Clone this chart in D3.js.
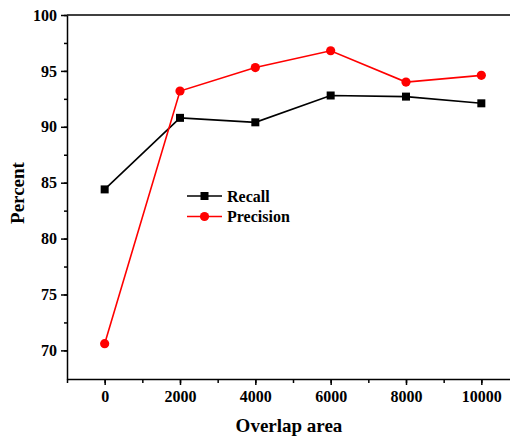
<!DOCTYPE html>
<html>
<head>
<meta charset="utf-8">
<title>Recall and Precision vs Overlap area</title>
<script src="https://cdn.jsdelivr.net/npm/d3@7"></script>
<style>
	body { margin: 0; background: #fff; }
	svg text { font-family: "Liberation Serif", "Times New Roman", serif; font-weight: bold; fill: #000; }
	.axis path, .axis line { stroke: #000; stroke-width: 1.5; }
</style>
</head>
<body>
<div id="chart"></div>
<script>
	var overlap = [0, 2000, 4000, 6000, 8000, 10000];
	var recall = [84.4, 90.8, 90.4, 92.8, 92.7, 92.1];
	var precision = [70.6, 93.2, 95.3, 96.8, 94.0, 94.6];
	var xTicks = [0, 2000, 4000, 6000, 8000, 10000];
	var yTicks = [70, 75, 80, 85, 90, 95, 100];

	var width = 510, height = 437,
		plotLeft = 67, plotTop = 15, plotRight = 519, plotBottom = 379;

	var svg = d3.select('#chart').append('svg')
		.attr('width', width)
		.attr('height', height);

	var x = d3.scaleLinear().domain([-1000, 11000]).range([plotLeft, plotRight]);
	var y = d3.scaleLinear().domain([67.44, 100]).range([plotBottom, plotTop]);

	// minor ticks first, major on top
	svg.append('g').attr('class', 'axis')
		.attr('transform', 'translate(0,' + plotBottom + ')')
		.call(d3.axisBottom(x).tickValues(d3.range(-1000, 11001, 1000)).tickSize(4).tickFormat(''))
		.select('.domain').remove();
	svg.append('g').attr('class', 'axis')
		.attr('transform', 'translate(' + plotLeft + ',0)')
		.call(d3.axisLeft(y).tickValues(d3.range(70, 100.1, 2.5)).tickSize(3).tickFormat(''))
		.select('.domain').remove();

	var xAxis = svg.append('g').attr('class', 'axis')
		.attr('transform', 'translate(0,' + plotBottom + ')')
		.call(d3.axisBottom(x).tickValues(xTicks).tickFormat(d3.format('d'))
			.tickSize(6).tickSizeOuter(0).tickPadding(6));
	xAxis.selectAll('text').style('font-size', '16px');

	var yAxis = svg.append('g').attr('class', 'axis')
		.attr('transform', 'translate(' + plotLeft + ',0)')
		.call(d3.axisLeft(y).tickValues(yTicks).tickSize(6).tickSizeOuter(0).tickPadding(4));
	yAxis.selectAll('text').style('font-size', '16px');

	// top frame line
	svg.append('line')
		.attr('x1', plotLeft).attr('x2', plotRight)
		.attr('y1', plotTop).attr('y2', plotTop)
		.attr('stroke', '#000').attr('stroke-width', 1.5);

	svg.append('text')
		.attr('x', (plotLeft + plotRight) / 2 - 4)
		.attr('y', 432)
		.attr('text-anchor', 'middle')
		.style('font-size', '19px')
		.text('Overlap area');

	svg.append('text')
		.attr('transform', 'translate(24,' + ((plotTop + plotBottom) / 2 - 4) + ') rotate(-90)')
		.attr('text-anchor', 'middle')
		.style('font-size', '19px')
		.text('Percent');

	var line = d3.line().x(function(d) { return x(d[0]); }).y(function(d) { return y(d[1]); });

	function series(values, color, shape) {
		var pts = d3.zip(overlap, values);
		svg.append('path')
			.attr('d', line(pts))
			.attr('fill', 'none')
			.attr('stroke', color)
			.attr('stroke-width', 1.6);
		var g = svg.append('g');
		if (shape === 'square') {
			g.selectAll('rect').data(pts).enter().append('rect')
				.attr('x', function(d) { return x(d[0]) - 4; })
				.attr('y', function(d) { return y(d[1]) - 4; })
				.attr('width', 8).attr('height', 8)
				.attr('fill', color);
		} else {
			g.selectAll('circle').data(pts).enter().append('circle')
				.attr('cx', function(d) { return x(d[0]); })
				.attr('cy', function(d) { return y(d[1]); })
				.attr('r', 4.6)
				.attr('fill', color);
		}
	}

	series(recall, '#000', 'square');
	series(precision, '#ff0000', 'circle');

	// legend
	var legend = [
		{ name: 'Recall', color: '#000', shape: 'square', cy: 196 },
		{ name: 'Precision', color: '#ff0000', shape: 'circle', cy: 216.5 }
	];
	var lg = svg.selectAll('g.legend').data(legend).enter().append('g').attr('class', 'legend');
	lg.append('line')
		.attr('x1', 187).attr('x2', 222)
		.attr('y1', function(d) { return d.cy; }).attr('y2', function(d) { return d.cy; })
		.attr('stroke', function(d) { return d.color; })
		.attr('stroke-width', 1.6);
	lg.each(function(d) {
		var s = d3.select(this);
		if (d.shape === 'square') {
			s.append('rect').attr('x', 200.5).attr('y', d.cy - 4).attr('width', 8).attr('height', 8).attr('fill', d.color);
		} else {
			s.append('circle').attr('cx', 204.5).attr('cy', d.cy).attr('r', 4.6).attr('fill', d.color);
		}
	});
	lg.append('text')
		.attr('x', 227)
		.attr('y', function(d) { return d.cy + 5.5; })
		.style('font-size', '16px')
		.text(function(d) { return d.name; });
</script>
</body>
</html>
